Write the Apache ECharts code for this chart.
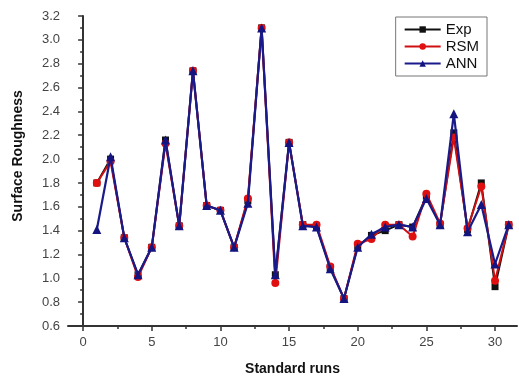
<!DOCTYPE html>
<html>
<head>
<meta charset="utf-8">
<script src="https://cdn.jsdelivr.net/npm/echarts@6/dist/echarts.min.js"></script>
<style>
  html, body { margin: 0; padding: 0; background: #fff; }
  #chart { width: 519px; height: 376px; }
</style>
</head>
<body>
<div id="chart"></div>
<script>
// standard run numbers 1..31
const runs = [1, 2, 3, 4, 5, 6, 7, 8, 9, 10, 11, 12, 13, 14, 15, 16, 17, 18, 19, 20, 21, 22, 23, 24, 25, 26, 27, 28, 29, 30, 31];

const expVals = [1.80, 2.00, 1.34, 1.03, 1.26, 2.16, 1.44, 2.74, 1.61, 1.57, 1.26, 1.65, 3.10, 1.03, 2.14, 1.45, 1.43, 1.09, 0.83, 1.27, 1.36, 1.40, 1.45, 1.43, 1.69, 1.45, 2.22, 1.41, 1.80, 0.93, 1.45];
const rsmVals = [1.80, 1.98, 1.34, 1.01, 1.26, 2.13, 1.44, 2.74, 1.61, 1.57, 1.26, 1.67, 3.10, 0.96, 2.14, 1.45, 1.45, 1.10, 0.83, 1.29, 1.33, 1.45, 1.45, 1.35, 1.71, 1.46, 2.18, 1.42, 1.77, 0.98, 1.45];
const annVals = [1.41, 2.02, 1.34, 1.03, 1.26, 2.16, 1.44, 2.74, 1.61, 1.57, 1.26, 1.63, 3.10, 1.03, 2.14, 1.44, 1.43, 1.08, 0.83, 1.26, 1.37, 1.43, 1.45, 1.43, 1.67, 1.45, 2.38, 1.39, 1.62, 1.12, 1.45];

const xMajorTicks = [0, 5, 10, 15, 20, 25, 30];
const xMinorTicks = [2.5, 7.5, 12.5, 17.5, 22.5, 27.5];

const pairs = (vals) => runs.map((r, i) => [r, vals[i]]);

const chart = echarts.init(document.getElementById("chart"));

const axisColor = "#333";
const labelStyle = { color: "#444", fontSize: 13, fontFamily: "Liberation Sans, Arial" };

chart.setOption({
  animation: false,
  grid: { left: 68, right: 2, top: 16, bottom: 50, containLabel: false, outerBoundsMode: "none" },
  legend: {
    right: 32,
    top: 17,
    orient: "vertical",
    itemWidth: 36,
    itemHeight: 8,
    itemGap: 2,
    padding: [5, 8, 5, 8],
    borderColor: "#777",
    borderWidth: 1,
    textStyle: { color: "#111", fontSize: 15, fontFamily: "Liberation Sans, Arial" },
    data: ["Exp", "RSM", "ANN"],
  },
  xAxis: [
    {
      type: "value",
      min: -1.1,
      max: 31.6,
      name: "Standard runs",
      nameLocation: "middle",
      nameGap: 36,
      nameTextStyle: { fontSize: 14, fontWeight: "bold", color: "#111", fontFamily: "Liberation Sans, Arial" },
      axisLine: { onZero: false, lineStyle: { color: axisColor, width: 2 } },
      axisTick: { show: true, customValues: xMajorTicks, length: 5, lineStyle: { color: axisColor, width: 1.5 } },
      axisLabel: { customValues: xMajorTicks, margin: 10, ...labelStyle },
      splitLine: { show: false },
    },
    {
      type: "value",
      position: "bottom",
      min: -1.1,
      max: 31.6,
      axisLine: { show: false },
      axisTick: { show: true, customValues: xMinorTicks, length: 3, lineStyle: { color: axisColor, width: 1.5 } },
      axisLabel: { show: false, customValues: xMinorTicks },
      splitLine: { show: false },
    },
  ],
  yAxis: {
    type: "value",
    min: 0.6,
    max: 3.2,
    interval: 0.2,
    name: "Surface Roughness",
    nameLocation: "middle",
    nameGap: 43,
    nameTextStyle: { fontSize: 14, fontWeight: "bold", color: "#111", fontFamily: "Liberation Sans, Arial", padding: [0, 0, 0, 30] },
    axisLine: { show: true, lineStyle: { color: axisColor, width: 2 } },
    axisTick: { show: true, length: 5, lineStyle: { color: axisColor, width: 1.5 } },
    minorTick: { show: true, splitNumber: 2, length: 3, lineStyle: { color: axisColor, width: 1.5 } },
    axisLabel: { margin: 8, formatter: (v) => v.toFixed(1), ...labelStyle },
    splitLine: { show: false },
  },
  series: [
    {
      name: "Exp",
      type: "line",
      data: pairs(expVals),
      symbol: "rect",
      symbolSize: 7,
      itemStyle: { color: "#111" },
      lineStyle: { color: "#111", width: 2 },
      z: 1,
    },
    {
      name: "RSM",
      type: "line",
      data: pairs(rsmVals),
      symbol: "circle",
      symbolSize: 8,
      itemStyle: { color: "#e01010" },
      lineStyle: { color: "#d01010", width: 2 },
      z: 2,
    },
    {
      name: "ANN",
      type: "line",
      data: pairs(annVals),
      symbol: "triangle",
      symbolSize: 9,
      itemStyle: { color: "#141480" },
      lineStyle: { color: "#1a1a8a", width: 2.2 },
      z: 3,
    },
  ],
});
</script>
</body>
</html>
